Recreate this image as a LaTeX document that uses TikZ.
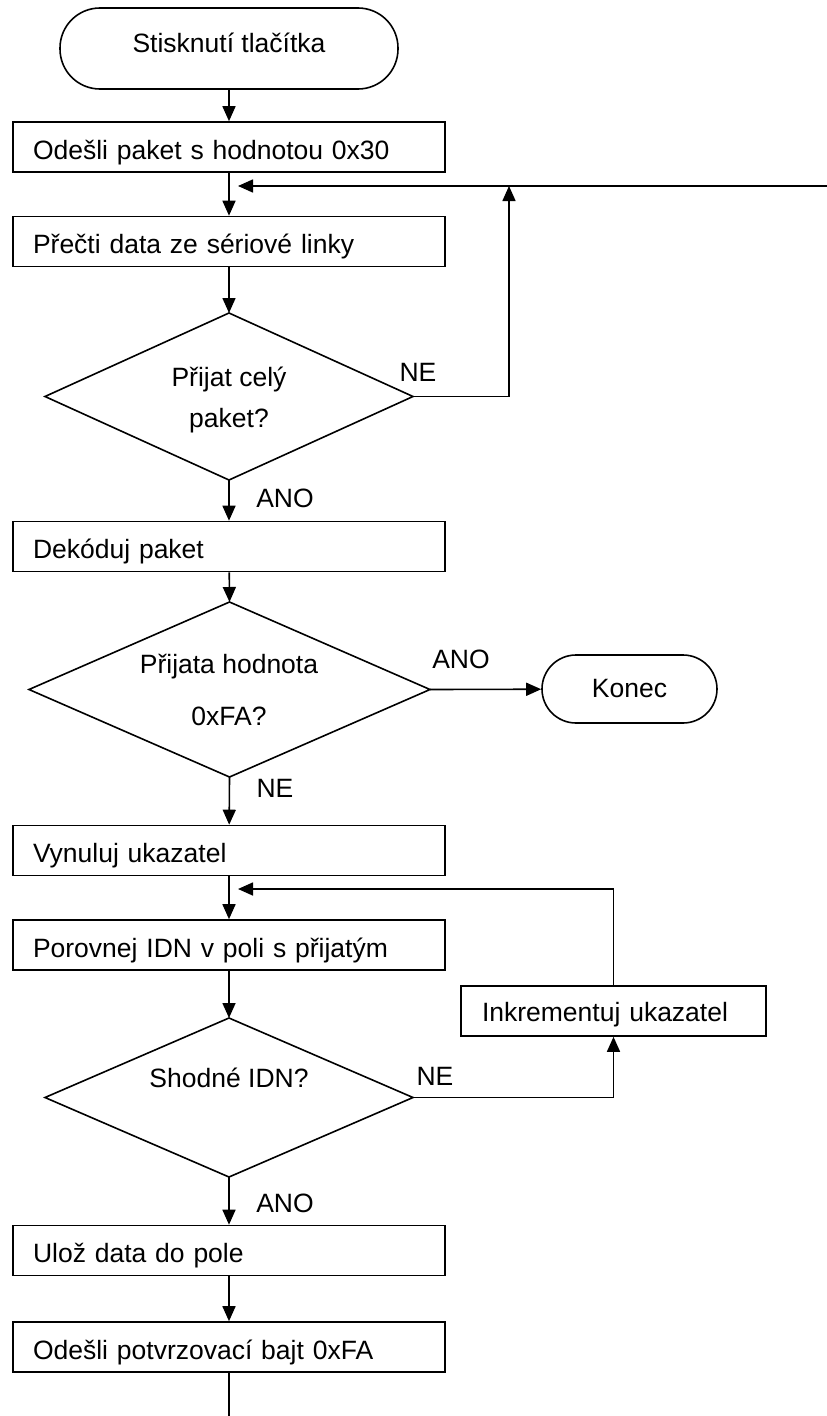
\documentclass[tikz,border=0pt]{standalone}
\usepackage{fontspec}
\setmainfont{Liberation Sans}
\usetikzlibrary{arrows.meta,shapes.geometric}
\newcommand{\fcfont}{\fontsize{26.5}{31}\selectfont}
\tikzset{
  line/.style={line width=1.6pt},
  arr/.style={line width=1.6pt,-{Triangle[length=15pt,width=13pt]}},
  stepbox/.style={draw,line width=1.6pt,minimum width=432pt,minimum height=50pt,
    text width=392pt,inner xsep=20pt,inner ysep=0pt,align=left,font=\fcfont,
    text height=24pt,text depth=0pt},
  term/.style={draw,line width=1.6pt,rounded corners=#1,inner sep=0pt,font=\fcfont},
  decis/.style={draw,diamond,line width=1.6pt,inner sep=0pt,outer sep=0pt},
  txt/.style={inner sep=0pt,font=\fcfont},
}
\begin{document}
\begin{tikzpicture}[x=1pt,y=-1pt]
\useasboundingbox (0,0) rectangle (827,1416);
% nodes
\node[term=40pt,minimum width=338pt,minimum height=81pt,text height=19pt,text depth=12pt] (start) at (229,48.5) {Stisknutí tlačítka};
\node[stepbox] (b1) at (229,147) {Odešli paket s hodnotou 0x30};
\node[stepbox] (b2) at (229,241.5) {Přečti data ze sériové linky};
\node[decis,minimum width=368pt,minimum height=167pt] (d1) at (229,396.5) {};
\node[txt] (d1a) at (229,379) {Přijat celý};
\node[txt] (d1b) at (229,421) {paket?};
\node[stepbox] (b3) at (229,546.5) {Dekóduj paket};
\node[decis,minimum width=401pt,minimum height=175pt] (d2) at (229.5,689.5) {};
\node[txt] (d2a) at (229,667) {Přijata hodnota};
\node[txt] (d2b) at (229,716) {0xFA?};
\node[term=34pt,minimum width=175pt,minimum height=68pt] (konec) at (629.5,689) {Konec};
\node[stepbox] (b4) at (229,850.5) {Vynuluj ukazatel};
\node[stepbox] (b5) at (229,945) {Porovnej IDN v poli s přijatým};
\node[decis,minimum width=368pt,minimum height=159pt] (d3) at (229,1097.5) {};
\node[txt] (d3a) at (229,1078) {Shodné IDN?};
\node[stepbox,minimum width=305pt,text width=263pt,inner xsep=21pt,text height=21pt] (inc) at (613.5,1011) {Inkrementuj ukazatel};
\node[stepbox] (b6) at (229,1250.5) {Ulož data do pole};
\node[stepbox] (b7) at (229,1347) {Odešli potvrzovací bajt 0xFA};
% labels
\node[txt] (l1) at (418,372) {NE};
\node[txt] (l2) at (285,498) {ANO};
\node[txt] (l3) at (461,659) {ANO};
\node[txt] (l4) at (275,788) {NE};
\node[txt] (l5) at (435,1076) {NE};
\node[txt] (l6) at (285,1203) {ANO};
% coordinates
\coordinate (fbR) at (827,186);
\coordinate (fbL) at (238,186);
\coordinate (fbJ) at (509,186);
\coordinate (fb2L) at (238,889);
\coordinate (endc) at (229,1416);
% connectors
\draw[arr] (start) -- (b1);
\draw[arr] (b1) -- (b2);
\draw[arr] (fbR) -- (fbL);
\draw[arr] (b2) -- (d1.north);
\draw[arr] (d1.east) -| (fbJ);
\draw[arr] (d1.south) -- (b3);
\draw[arr] (b3) -- (d2.north);
\draw[arr] (d2.east) -- (konec);
\draw[arr] (d2.south) -- (b4);
\draw[arr] (b4) -- (b5);
\draw[arr] (inc.north) |- (fb2L);
\draw[arr] (b5) -- (d3.north);
\draw[arr] (d3.east) -| (inc.south);
\draw[arr] (d3.south) -- (b6);
\draw[arr] (b6) -- (b7);
\draw[line] (b7) -- (endc);
\end{tikzpicture}
\end{document}
